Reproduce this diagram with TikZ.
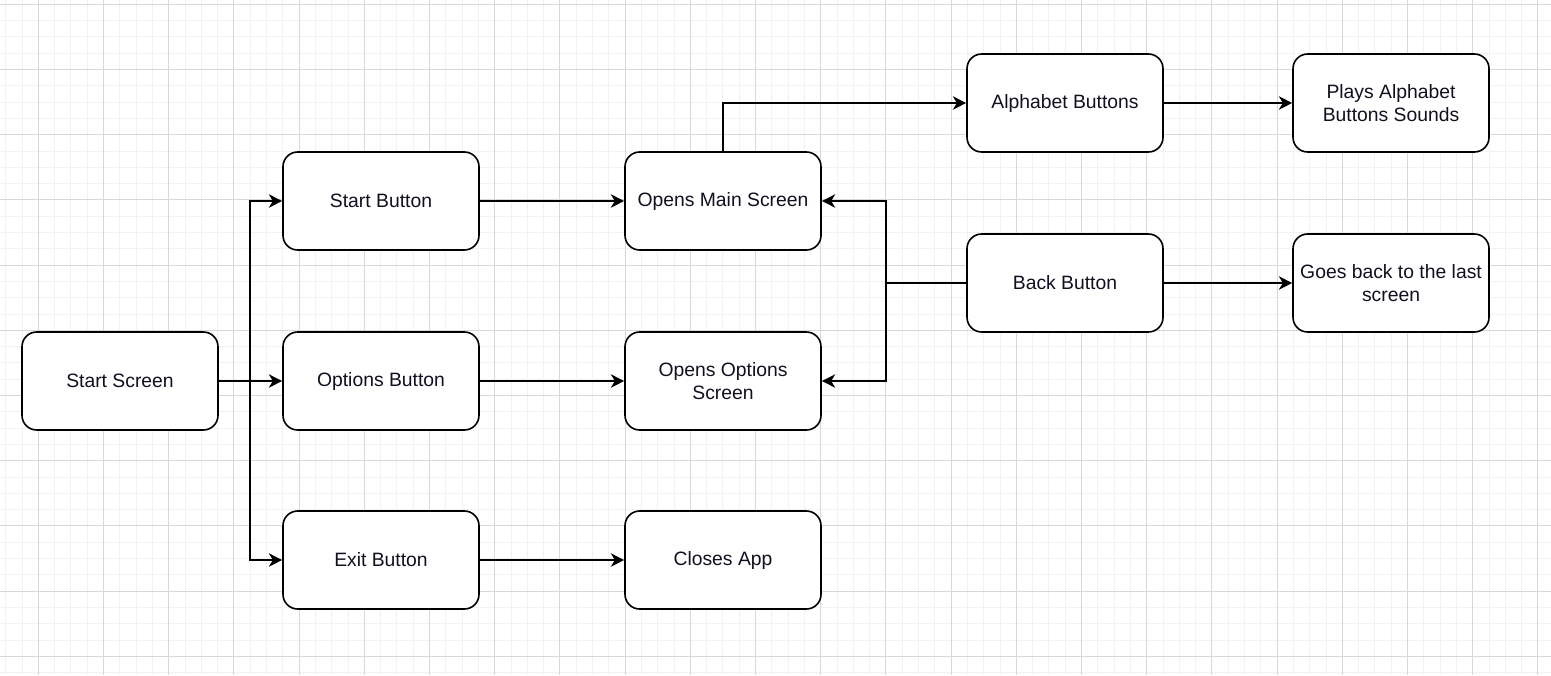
\documentclass[tikz,border=0pt]{standalone}
\usepackage{fontspec}
\setmainfont{Liberation Sans}
\usetikzlibrary{arrows.meta}
\definecolor{gridminor}{HTML}{F2F2F2}
\definecolor{gridmajor}{HTML}{D8D8D8}
\definecolor{txt}{HTML}{101020}
\tikzset{
  box/.style={draw=black, line width=1.2pt, rounded corners=11pt, fill=white,
    minimum width=147pt, minimum height=73.5pt, inner sep=2pt, align=center,
    font=\fontsize{14.5}{17}\selectfont, text=txt},
  conn/.style={draw=black, line width=1.2pt},
  arr/.style={conn, -{Stealth[length=10pt,width=10pt,inset=3pt]}}
}
\begin{document}
\begin{tikzpicture}[x=0.75pt,y=-0.75pt]
\useasboundingbox (0,0) rectangle (1551,675);
\fill[white] (0,0) rectangle (1551,675);
% grid
\foreach \i in {-2,...,93}{
  \pgfmathsetmacro{\xx}{floor(38.3+16.3*\i)+0.5}
  \pgfmathtruncatemacro{\m}{mod(\i+8,4)}
  \ifnum\m=0\relax
  \else
    \draw[gridminor, line width=0.75pt] (\xx,0) -- (\xx,675);
  \fi
}
\foreach \j in {-1,...,41}{
  \pgfmathsetmacro{\yy}{floor(4.3+16.3*\j)+0.5}
  \pgfmathtruncatemacro{\m}{mod(\j+8,4)}
  \ifnum\m=0\relax
  \else
    \draw[gridminor, line width=0.75pt] (0,\yy) -- (1551,\yy);
  \fi
}
\foreach \i in {0,...,23}{
  \pgfmathsetmacro{\xx}{floor(38.3+65.2*\i)+0.5}
  \draw[gridmajor, line width=1pt] (\xx,0) -- (\xx,675);
}
\foreach \j in {0,...,10}{
  \pgfmathsetmacro{\yy}{floor(4.3+65.2*\j)+0.5}
  \draw[gridmajor, line width=1pt] (0,\yy) -- (1551,\yy);
}
% nodes
\node[box] (ss)  at (120,381) {Start Screen};
\node[box] (sb)  at (381,201) {Start Button};
\node[box] (ob)  at (381,381) {Options Button};
\node[box] (eb)  at (381,560) {Exit Button};
\node[box] (oms) at (723,201) {Opens Main Screen};
\node[box] (oos) at (723,381) {Opens Options\\Screen};
\node[box] (ca)  at (723,560) {Closes App};
\node[box] (ab)  at (1065,103) {Alphabet Buttons};
\node[box] (pa)  at (1391,103) {Plays Alphabet\\Buttons Sounds};
\node[box] (bb)  at (1065,283) {Back Button};
\node[box] (gb)  at (1391,283) {Goes back to the last\\screen};
% junctions
\coordinate (j1) at (250,381);
\coordinate (j2) at (886,283);
% connectors
\draw[conn] (ss.east) -- (j1);
\draw[arr] (j1) |- (sb.west);
\draw[arr] (j1) -- (ob.west);
\draw[arr] (j1) |- (eb.west);
\draw[arr] (sb.east) -- (oms.west);
\draw[arr] (ob.east) -- (oos.west);
\draw[arr] (eb.east) -- (ca.west);
\draw[arr] (oms.north) |- (ab.west);
\draw[arr] (ab.east) -- (pa.west);
\draw[conn] (bb.west) -- (j2);
\draw[arr] (j2) |- (oms.east);
\draw[arr] (j2) |- (oos.east);
\draw[arr] (bb.east) -- (gb.west);
\end{tikzpicture}
\end{document}
